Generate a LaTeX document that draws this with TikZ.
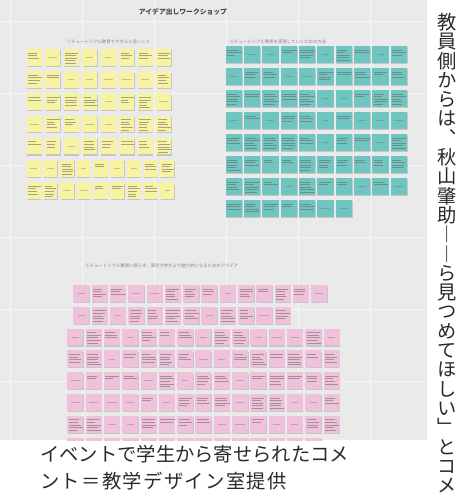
\documentclass[tikz,border=0pt]{standalone}
\usepackage{fontspec}
\newfontfamily\jp{Noto Sans CJK JP}
\newfontfamily\jpv[RawFeature=+vert]{Noto Sans CJK JP}
\newfontfamily\jpsp[LetterSpace=7]{Noto Sans CJK JP}
\definecolor{board}{HTML}{EAEAEA}
\definecolor{gridc}{HTML}{F5F5F5}
\definecolor{ynote}{HTML}{F8F3A2}
\definecolor{tnote}{HTML}{6FC5BF}
\definecolor{pnote}{HTML}{F0C1DA}
\definecolor{shad}{HTML}{C6C6C6}
\definecolor{ink}{HTML}{2A2A2A}
\definecolor{lblc}{HTML}{858585}
\tikzset{
  scrib/.style={draw=black!60, line width=0.35pt, opacity=0.55},
  lbl/.style={font=\jp\fontsize{4.4}{5}\selectfont, text=lblc, inner sep=0pt},
  captxt/.style={font=\jp\fontsize{19.3}{22}\selectfont, text=ink, inner sep=0pt},
  vt/.style={font=\jpv\fontsize{19.3}{19.3}\selectfont, text=ink, inner sep=0pt, align=center},
}
\newcommand\stickynote[5]{%
  \pgfmathsetmacro\nx{#1}\pgfmathsetmacro\ny{#2}%
  \fill[shad] (\nx+0.5,\ny+1.3) rectangle ++(#3,#4);
  \fill[#5] (\nx,\ny) rectangle ++(#3,#4);
  \pgfmathrandominteger{\nlines}{0}{5}%
  \ifnum\nlines<2
    \pgfmathsetmacro\len{(#3)*(0.35+0.3*rnd)}%
    \draw[scrib, opacity=0.35] (\nx+0.5*#3-0.5*\len,\ny+0.5*#4) -- ++(\len,0);
  \else
    \foreach \k in {1,...,\nlines}{
      \pgfmathsetmacro\len{(#3)*(0.5+0.4*rnd)}
      \draw[scrib] (\nx+1.5,\ny+1.2+\k*2.6) -- ++(\len,0);
    }
  \fi
}
\begin{document}
\begin{tikzpicture}[x=1pt,y=-1pt]
\pgfmathsetseed{7}
\useasboundingbox (0,0) rectangle (471,498);
\fill[white] (0,0) rectangle (471,498);
\begin{scope}
\clip (0,0) rectangle (427,440);
\fill[board] (0,0) rectangle (427,440);
\foreach \gx in {10,82,154,226,298,370}{\draw[gridc, line width=0.9pt] (\gx,0) -- (\gx,440);}
\foreach \gy in {21,93,165,237,309,381}{\draw[gridc, line width=0.9pt] (0,\gy) -- (427,\gy);}
% yellow block
\foreach \r in {0,...,4}{\foreach \c in {0,...,7}{\stickynote{26.7+\c*18.5}{49+\r*22.2}{15}{16.5}{ynote}}}
\foreach \r in {5,6}{\foreach \c in {0,...,8}{\stickynote{26.7+\c*16.7}{49+\r*22.2}{14}{16.5}{ynote}}}
% teal block
\foreach \r in {0,...,6}{\foreach \c in {0,...,9}{\stickynote{225.5+\c*18.35}{46+\r*22}{16.5}{16.7}{tnote}}}
\foreach \c in {0,...,6}{\stickynote{225.5+\c*18.35}{46+7*22}{16.5}{16.7}{tnote}}
% pink block
\foreach \c in {0,...,13}{\stickynote{73.3+\c*18.3}{285}{16}{16.7}{pnote}}
\foreach \c in {0,...,11}{\stickynote{73.3+\c*18.3}{306.8}{16}{16.7}{pnote}}
\foreach \r in {2,...,6}{\foreach \c in {0,...,14}{\stickynote{67.3+\c*18.3}{285+\r*21.8}{16}{16.7}{pnote}}}
\foreach \c in {0,...,13}{\stickynote{67.3+\c*18.3}{285+7*21.8}{16}{16.7}{pnote}}
\end{scope}
% titles and labels
\node[font=\jp\bfseries\fontsize{6.8}{7}\selectfont, text=black!72, inner sep=0pt] (title) at (183,12) {アイデア出しワークショップ};
\node[lbl] (lab1) at (108.5,41.5) {①チュートリアル教育でできると良いこと};
\node[lbl] (lab2) at (278,41.5) {②チュートリアル教育を実現していくための方法};
\node[lbl, anchor=west] (lab3) at (85,266) {③チュートリアル教育に限らず、東京大学がより魅力的になるためのアイデア};
% caption
\node[captxt, anchor=base west] (cap1) at (40,461) {イベントで学生から寄せられたコメ};
\node[captxt, font=\jpsp\fontsize{19.3}{22}\selectfont, anchor=base west] (cap2) at (40,488) {ント＝教学デザイン室提供};
% vertical column
\node[vt, anchor=north] (vcol) at (447,13) {教\\員\\側\\か\\ら\\は\\、\\秋\\山\\肇\\助\\―\\―\\ら\\見\\つ\\め\\て\\ほ\\し\\い\\」\\と\\コ\\メ};
\end{tikzpicture}
\end{document}
